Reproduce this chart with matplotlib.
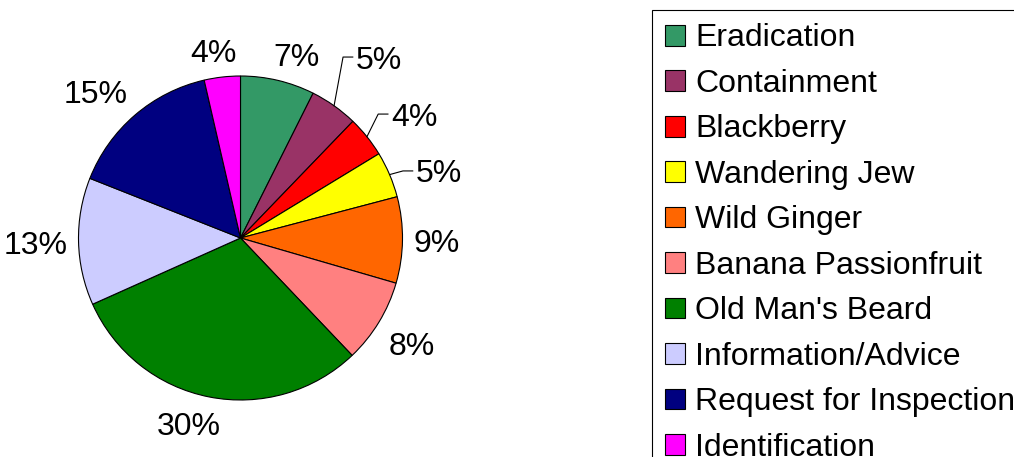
import numpy as np
import matplotlib.pyplot as plt

plt.rcParams['font.family'] = ['Liberation Sans', 'DejaVu Sans']

# share of enquiries per category (in %)
categories = ['Eradication', 'Containment', 'Blackberry', 'Wandering Jew', 'Wild Ginger',
              'Banana Passionfruit', "Old Man's Beard", 'Information/Advice',
              'Request for Inspection', 'Identification']
shares = [7.4, 4.8, 4.1, 4.6, 8.6, 8.4, 30.4, 12.7, 15.4, 3.6]
colors = ['#339966', '#993366', '#FF0000', '#FFFF00', '#FF6600', '#FF8080',
          '#008000', '#CCCCFF', '#000080', '#FF00FF']

W, H = 1014, 457
cx, cy, R = 240.5, 238.0, 162.0   # pie centre and radius in pixels
fs = 23

fig = plt.figure(figsize=(W / 100, H / 100), dpi=100)
ax = fig.add_axes([0, 0, 1, 1])
wedges, _ = ax.pie(shares, colors=colors, startangle=90, counterclock=False,
                   wedgeprops=dict(edgecolor='black', linewidth=0.8))
ax.set_xlim(-cx / R, (W - cx) / R)
ax.set_ylim((cy - H) / R, cy / R)
ax.set_aspect('equal')
ax.axis('off')

fig.canvas.draw()
renderer = fig.canvas.get_renderer()

# labels that were dragged out with a leader line: left edge / centre of text
moved = {1: (0.713, 1.117), 2: (0.93, 0.765), 3: (1.083, 0.414)}

total = float(sum(shares))
start = 0.0
for i, v in enumerate(shares):
    mid = (start + v / 2) / total * 2 * np.pi
    start += v
    ux, uy = np.sin(mid), np.cos(mid)
    txt = '{0:.0f}%'.format(100 * v / total)
    if i in moved:
        tx, ty = moved[i]
        ax.plot([ux, tx - 0.08, tx - 0.02], [uy, ty, ty], color='black', lw=0.8)
        ax.text(tx, ty, txt, ha='left', va='center_baseline', fontsize=fs)
        continue
    t = ax.text(0, 0, txt, ha='center', va='center_baseline', fontsize=fs)
    bb = t.get_window_extent(renderer)
    w, h = bb.width / R, bb.height / R
    lx = 1.07 * ux + np.clip(3.0 * ux, -1, 1) * w / 2
    ly = 1.07 * uy + np.clip(3.0 * uy, -1, 1) * h / 2
    t.set_position((lx, ly))

leg = fig.legend(wedges, categories, loc='upper left', bbox_to_anchor=(652 / W, 1 - 10 / H),
                 borderaxespad=0, fontsize=fs, fancybox=False, shadow=False,
                 edgecolor='black', framealpha=1, handlelength=0.62, handleheight=0.62,
                 handletextpad=0.32, borderpad=0.42, labelspacing=0.485)
leg.get_frame().set_linewidth(0.8)

fig.savefig('out.png', dpi=100)
